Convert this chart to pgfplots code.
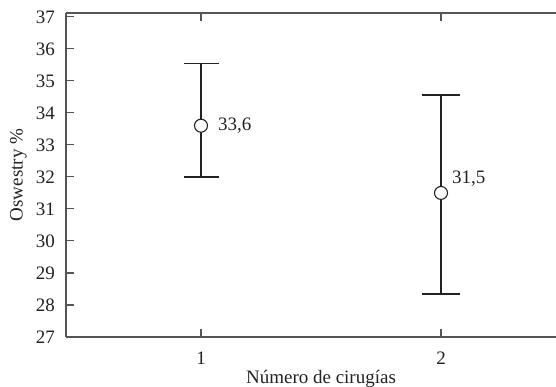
\documentclass[border=0pt]{standalone}
\usepackage{fontspec}
\setmainfont{Liberation Serif}
\usepackage{pgfplots}
\pgfplotsset{compat=1.18}
\definecolor{axisgray}{RGB}{85,85,85}
\definecolor{barblack}{RGB}{34,34,34}
\begin{document}
\fontsize{19bp}{22bp}\selectfont
\begin{tikzpicture}
\begin{axis}[
  scale only axis,
  width=510bp, height=324bp,
  xmin=0.4375, xmax=2.5625,
  ymin=27, ymax=37.12,
  axis x line*=box,
  axis y line*=left,
  axis line style={axisgray, line width=1.1pt},
  xtick={1,2}, ytick={27,28,...,37},
  tick align=inside,
  major tick length=8bp,
  tick style={axisgray, line width=1.1pt},
  /pgf/number format/assume math mode=true,
  ticklabel style={font=\fontsize{19bp}{22bp}\selectfont, text=barblack},
  yticklabel style={inner sep=0pt, xshift=-11bp},
  xticklabel style={inner sep=0pt, yshift=-15bp},
  xlabel={Número de cirugías},
  ylabel={Oswestry \%},
  label style={font=\fontsize{19bp}{22bp}\selectfont, text=barblack, inner sep=0pt},
  xlabel style={at={(rel axis cs:0.5,0)}, anchor=base, yshift=-46bp},
  ylabel style={at={(rel axis cs:0,0.5)}, anchor=south, yshift=39bp},
  clip=false,
]
\addplot[barblack, line width=1.3pt, mark=*, mark size=6.5bp,
  mark options={fill=white, draw=barblack, line width=1.1pt},
  only marks,
  error bars/.cd, y dir=both, y explicit,
  error bar style={barblack, line width=1.3pt},
  error mark options={barblack, line width=1.3pt, mark size=17.5bp, rotate=90}]
  coordinates {(1,33.6) += (0,1.95) -= (0,1.6)};
\addplot[barblack, line width=1.6pt, mark=*, mark size=6.5bp,
  mark options={fill=white, draw=barblack, line width=1.1pt},
  only marks,
  error bars/.cd, y dir=both, y explicit,
  error bar style={barblack, line width=1.6pt},
  error mark options={barblack, line width=1.6pt, mark size=19bp, rotate=90}]
  coordinates {(2,31.5) += (0,3.05) -= (0,3.15)};
\node[anchor=west, inner sep=0pt, text=barblack, xshift=17bp] at (axis cs:1,33.6) {33,6};
\node[anchor=west, inner sep=0pt, text=barblack, xshift=11bp, yshift=14bp] at (axis cs:2,31.5) {31,5};
\coordinate (bl) at (rel axis cs:0,0);
\coordinate (tl) at (rel axis cs:0,1);
\end{axis}
\pgfresetboundingbox
\path[use as bounding box] ([xshift=-66bp,yshift=-50bp]bl) rectangle ([xshift=490bp,yshift=13bp]tl);
\end{tikzpicture}
\end{document}
